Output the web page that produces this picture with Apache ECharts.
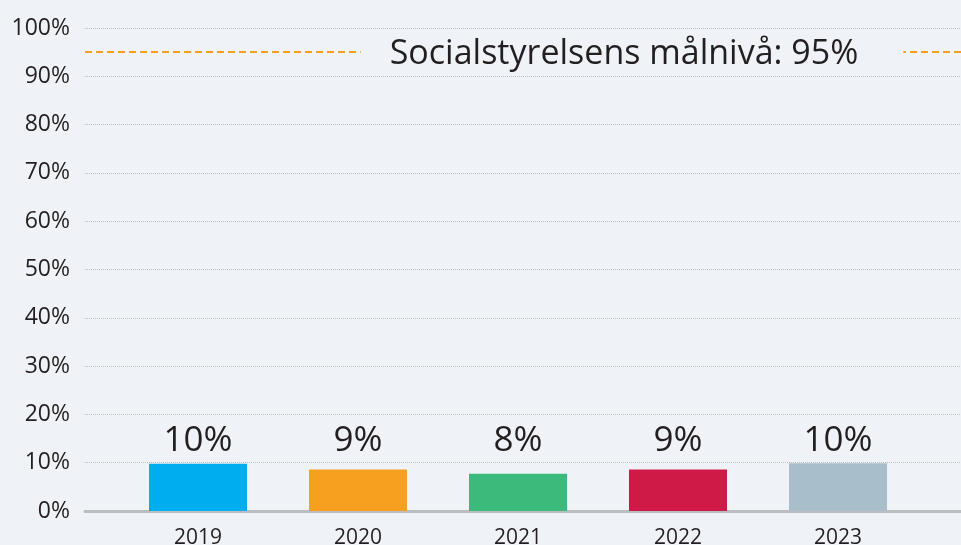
<!DOCTYPE html>
<html>
<head>
<meta charset="utf-8">
<script src="https://cdn.jsdelivr.net/npm/echarts@6/dist/echarts.min.js"></script>
<style>
    html, body { margin: 0; padding: 0; background: #eff3f7; }
    #chart { width: 961px; height: 545px; }
</style>
</head>
<body>
<div id="chart"></div>
<script>
// år och andel (%)
var years = ['2019', '2020', '2021', '2022', '2023'];
var values = [9.8, 8.6, 7.7, 8.6, 9.9];
var barColors = ['#00aeef', '#f79f1f', '#3bbb7b', '#cf1946', '#a8bfcb'];
var targetValue = 95;
var targetText = 'Socialstyrelsens målnivå: 95%';

var font = '"Open Sans", "Noto Sans", sans-serif';
var bg = '#eff3f7';

var myChart = echarts.init(document.getElementById('chart'));
var option = {
    backgroundColor: bg,
    animation: false,
    grid: [
        {left: 85, right: 0, top: 28, bottom: 34, outerBoundsMode: 'none'},
        {left: 118, right: 43, top: 28, bottom: 34, outerBoundsMode: 'none'}
    ],
    xAxis: [
        {
            gridIndex: 0,
            type: 'value',
            min: 0,
            max: 1,
            axisLine: {show: true, lineStyle: {color: '#bcbdc1', width: 3}},
            axisTick: {show: false},
            axisLabel: {show: false},
            splitLine: {show: false}
        },
        {
            gridIndex: 1,
            type: 'category',
            data: years,
            axisLine: {show: false},
            axisTick: {show: false},
            axisLabel: {
                margin: 17,
                color: '#231f20',
                fontSize: 21,
                fontFamily: font
            }
        }
    ],
    yAxis: [
        {
            gridIndex: 0,
            type: 'value',
            min: 0,
            max: 100,
            interval: 10,
            axisLine: {show: false},
            axisTick: {show: false},
            axisLabel: {
                margin: 15,
                color: '#231f20',
                fontSize: 23,
                fontFamily: font,
                formatter: '{value}%'
            },
            splitLine: {
                show: true,
                lineStyle: {color: '#b9bcc0', type: 'dotted', width: 1}
            }
        },
        {
            gridIndex: 1,
            type: 'value',
            min: 0,
            max: 100,
            show: false
        }
    ],
    series: [
        {
            // bara för mållinjen
            type: 'line',
            xAxisIndex: 0,
            yAxisIndex: 0,
            data: [],
            silent: true,
            markLine: {
                symbol: 'none',
                silent: true,
                lineStyle: {color: '#f79f1f', type: [7, 4], width: 2},
                label: {
                    show: true,
                    position: 'middle',
                    formatter: targetText,
                    color: '#231f20',
                    fontSize: 34,
                    fontFamily: font,
                    backgroundColor: bg,
                    padding: [2, 45, 2, 29],
                    offset: [109, 26]
                },
                data: [{yAxis: targetValue}]
            }
        },
        {
            type: 'bar',
            xAxisIndex: 1,
            yAxisIndex: 1,
            barWidth: 98,
            data: values.map(function (v, i) {
                return {value: v, itemStyle: {color: barColors[i]}};
            }),
            label: {
                show: true,
                position: 'insideBottom',
                distance: 52,
                color: '#231f20',
                fontSize: 35,
                fontFamily: font,
                formatter: function (p) {
                    return Math.round(p.value) + '%';
                }
            }
        }
    ]
};

myChart.setOption(option);
</script>
</body>
</html>
